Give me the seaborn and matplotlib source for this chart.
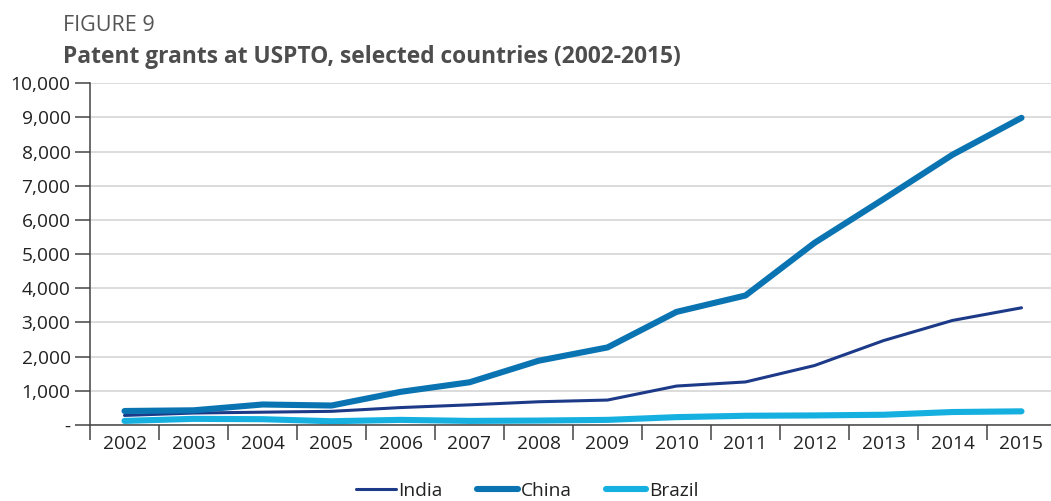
import matplotlib
matplotlib.use("Agg")
import matplotlib.pyplot as plt
import seaborn as sns
import pandas as pd
from matplotlib.lines import Line2D
from matplotlib.ticker import FixedLocator, FuncFormatter

years = [2002, 2003, 2004, 2005, 2006, 2007, 2008, 2009, 2010, 2011, 2012, 2013, 2014, 2015]
india = [280, 350, 375, 400, 510, 590, 680, 730, 1140, 1260, 1740, 2470, 3060, 3430]
china = [410, 430, 600, 570, 970, 1250, 1880, 2270, 3310, 3790, 5330, 6610, 7910, 8990]
brazil = [120, 180, 170, 110, 150, 120, 130, 150, 230, 270, 280, 300, 380, 400]
series_names = ["India", "China", "Brazil"]
colors = {"India": "#1C3A88", "China": "#0A74B2", "Brazil": "#16B0E0"}
widths = {"India": 2.2, "China": 4.4, "Brazil": 4.4}
y_ticks = [0, 1000, 2000, 3000, 4000, 5000, 6000, 7000, 8000, 9000, 10000]

rows = []
for name, vals in zip(series_names, [india, china, brazil]):
    for i, (yr, v) in enumerate(zip(years, vals)):
        rows.append({"pos": i, "year": yr, "country": name, "value": v})
df = pd.DataFrame(rows)

sns.set_theme(style="white")
plt.rcParams["font.family"] = ["Open Sans", "DejaVu Sans"]

fig = plt.figure(figsize=(10.51, 5.01), dpi=100)
ax = fig.add_axes([90 / 1051, 1 - 425 / 501, (1056 - 90) / 1051, (425 - 83.3) / 501])

for name in series_names:
    sub = df[df["country"] == name]
    sns.lineplot(data=sub, x="pos", y="value", ax=ax, color=colors[name],
                 linewidth=widths[name], solid_capstyle="round",
                 solid_joinstyle="round", legend=False)

ax.set_xlim(-0.5, len(years) - 0.5)
ax.set_ylim(0, 10000)
ax.set_xlabel("")
ax.set_ylabel("")

# y axis
ax.yaxis.set_major_locator(FixedLocator(y_ticks))
ax.yaxis.set_major_formatter(FuncFormatter(lambda v, p: "-" if v == 0 else f"{int(v):,}"))
ax.grid(axis="y", color="#d9d9d9", linewidth=1.3)
ax.set_axisbelow(True)

# x axis: ticks at boundaries, labels at centers
ax.xaxis.set_major_locator(FixedLocator([i - 0.5 for i in range(len(years) + 1)]))
ax.xaxis.set_major_formatter(FuncFormatter(lambda v, p: ""))
ax.xaxis.set_minor_locator(FixedLocator(list(range(len(years)))))
ax.set_xticklabels([str(y) for y in years], minor=True)

ax.tick_params(axis="x", which="major", direction="out", length=10.5, width=1.1,
               color="#444444", bottom=True)
ax.tick_params(axis="x", which="minor", length=0, labelsize=13.8,
               labelcolor="#222222", pad=7, bottom=True)
ax.tick_params(axis="y", which="major", direction="out", length=11, width=1.1,
               color="#444444", labelsize=13.8, labelcolor="#222222", pad=3, left=True)

for s in ["top", "right"]:
    ax.spines[s].set_visible(False)
for s in ["left", "bottom"]:
    ax.spines[s].set_color("#444444")
    ax.spines[s].set_linewidth(1.1)

# titles
fig.text(63 / 1051, 1 - 31 / 501, "FIGURE 9", fontsize=15.5, color="#555555",
         family=["Open Sans", "DejaVu Sans"], va="baseline")
fig.text(63 / 1051, 1 - 63 / 501, "Patent grants at USPTO, selected countries (2002-2015)",
         fontsize=16.4, fontweight="bold", color="#4d4d4d",
         family=["Open Sans", "DejaVu Sans"], va="baseline")

handles = [Line2D([0], [0], color=colors[n], linewidth=widths[n], solid_capstyle="round")
           for n in series_names]
fig.legend(handles, series_names, loc="center", bbox_to_anchor=(527 / 1051, 1 - 491 / 501),
           ncol=3, frameon=False, fontsize=13.8, handlelength=2.1, handletextpad=0.15,
           columnspacing=1.8, labelcolor="#222222")

fig.savefig("out.png", dpi=100)
